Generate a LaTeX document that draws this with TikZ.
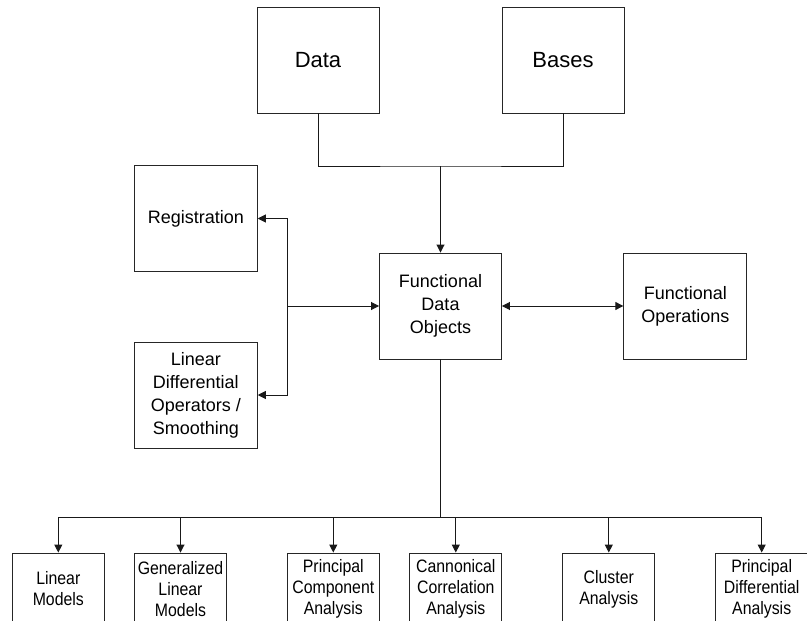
\documentclass[tikz,border=0pt]{standalone}
\usepackage{fontspec}
\setmainfont{Liberation Sans}
\newfontfamily\narfont{Liberation Sans}[FakeStretch=0.88]
\usetikzlibrary{arrows.meta}
\begin{document}
\begin{tikzpicture}[x=1pt,y=-1pt,
  box/.style={draw=black!85,line width=0.9pt,minimum width=122pt,minimum height=106pt,align=center,inner sep=0pt,font=\fontsize{18}{23}\selectfont},
  bigbox/.style={box,font=\fontsize{22}{26}\selectfont},
  botbox/.style={box,minimum width=92pt,minimum height=72pt,font=\narfont\fontsize{18}{21}\selectfont},
  conn/.style={line width=0.9pt,draw=black!90},
  arr/.style={conn,-{Triangle[length=8pt,width=8pt]}},
  darr/.style={conn,{Triangle[length=8pt,width=8pt]}-{Triangle[length=8pt,width=8pt]}}]
\useasboundingbox (0,0) rectangle (807,621);
\clip (0,0) rectangle (807,621);
\node[bigbox] (data) at (318,60) {Data};
\node[bigbox] (bases) at (563,60) {Bases};
\node[box] (fdo) at (440.5,306) {Functional\\Data\\Objects};
\node[box,minimum width=123pt] (fops) at (685.3,306) {Functional\\Operations};
\node[box,minimum width=123pt] (reg) at (195.8,218.5) {Registration};
\node[box,minimum width=123pt] (ldo) at (195.8,395) {Linear\\Differential\\Operators /\\Smoothing};
\node[botbox] (b1) at (58.3,589) {Linear\\Models};
\node[botbox] (b2) at (180.5,589) {Generalized\\Linear\\Models};
\node[botbox] (b3) at (333.3,589) {Principal\\Component\\Analysis};
\node[botbox] (b4) at (455.8,589) {Cannonical\\Correlation\\Analysis};
\node[botbox] (b5) at (608.8,589) {Cluster\\Analysis};
\node[botbox] (b6) at (761.7,589) {Principal\\Differential\\Analysis};
\coordinate (top) at (440.5,166);
\coordinate (left) at (287.3,306);
\coordinate (bus) at (440.5,517);
\draw[conn] (data.south) |- (top) -| (bases.south);
\draw[arr] (top) -- (fdo.north);
\draw[darr] (reg.east) -| (left) |- (ldo.east);
\draw[arr] (left) -- (fdo.west);
\draw[darr] (fdo.east) -- (fops.west);
\draw[conn] (fdo.south) -- (bus);
\draw[conn] (b1.north |- bus) -- (b6.north |- bus);
\foreach \b in {b1,b2,b3,b4,b5,b6}{\draw[arr] (\b.north |- bus) -- (\b.north);}
\end{tikzpicture}
\end{document}
